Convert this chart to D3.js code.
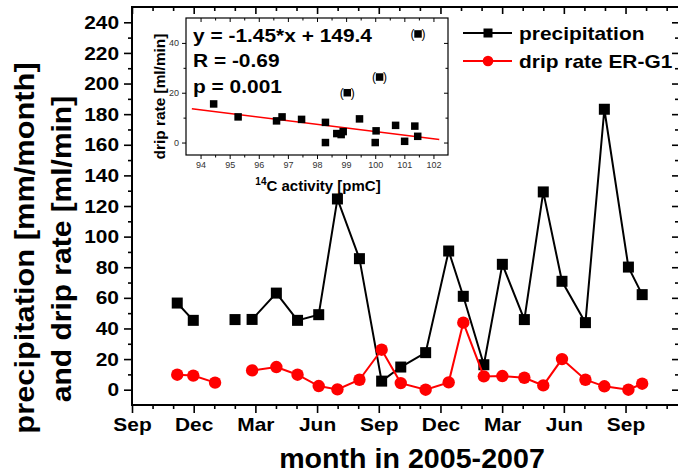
<!DOCTYPE html>
<html>
<head>
<meta charset="utf-8">
<script src="https://cdn.jsdelivr.net/npm/d3@7"></script>
<style>
  body { margin: 0; background: #fff; }
  svg { display: block; }
  text { font-family: "Liberation Sans", Arial, sans-serif; }
</style>
</head>
<body>
<svg id="chart" width="678" height="475"></svg>
<script>
// ---- main series: sampling dates in months after 1 Sep 2005 (null row = gap) ----
const sampleMonth   = [2.20, 2.98, 4.04, 5.01, null, 5.84, 7.02, 8.05, 9.08, 9.99, 11.06, 12.14, 13.07, 14.28, 15.40, 16.11, 17.11, 18.01, 19.08, 20.00, 20.91, 22.05, 22.97, 24.14, 24.81];
const precipitation = [56.6, 45.3, null, 45.8, null, 45.9, 63.1, 45.3, 49.0, 124.6, 85.6, 5.6, 14.8, 24.2, 90.6, 61.0, 16.3, 81.9, 45.8, 129.2, 70.8, 43.8, 183.2, 80.1, 62.1];
const dripRate      = [9.8, 9.2, 4.6, null, null, 12.6, 14.8, 9.8, 2.4, 0.2, 6.5, 26.1, 4.3, 0.0, 4.8, 43.8, 8.7, 8.9, 7.8, 2.8, 20.0, 6.5, 2.2, 0.0, 3.9];

const monthTickLabels = ["Sep", "Dec", "Mar", "Jun", "Sep", "Dec", "Mar", "Jun", "Sep"];
const yTickValues = [0, 20, 40, 60, 80, 100, 120, 140, 160, 180, 200, 220, 240];

const seriesNames = ["precipitation", "drip rate ER-G1"];

// ---- inset: drip rate against 14C activity ----
const c14Activity   = [94.45, 95.29, 96.61, 96.80, 97.47, 98.29, 98.29, 98.68, 98.83, 98.90, 99.46, 100.03, 100.00, 100.70, 101.01, 101.36, 101.46];
const c14DripRate   = [15.5, 10.3, 8.7, 10.3, 9.3, 8.1, 0.0, 3.6, 3.2, 4.4, 9.5, 4.7, 0.0, 6.9, 0.5, 6.6, 2.5];
// excluded from the fit, shown in brackets
const outlierActivity = [99.04, 100.15, 101.47];
const outlierDripRate = [20.0, 26.3, 43.6];

const fitSlope = -1.45, fitIntercept = 149.4, fitR = -0.69, fitP = "0.001";
const fitRange = [93.7, 102.2];
const insetXTicks = [94, 95, 96, 97, 98, 99, 100, 101, 102];
const insetYTicks = [0, 20, 40];

const svg = d3.select("#chart");
const RED = "#ff0000";

// widen glyphs slightly along the writing direction
function stretch(sel, k) {
  sel.each(function () {
    const L = this.getComputedTextLength();
    this.setAttribute("textLength", L * k);
    this.setAttribute("lengthAdjust", "spacingAndGlyphs");
  });
}

// ================= main plot =================
const P = { left: 132, right: 679, top: 7, bottom: 405 };
const x = d3.scaleLinear().domain([0, 26.6]).range([P.left, P.right]);
const y = d3.scaleLinear().domain([-10, 250]).range([P.bottom, P.top]);

const majorMonths = d3.range(0, 25, 3);
const minorMonths = d3.range(0, 27).filter(m => m % 3 !== 0);
const minorY = d3.range(10, 250, 20);

function styleAxis(g) {
  g.select(".domain").remove();
  g.selectAll(".tick line").attr("stroke", "#000").attr("stroke-width", 1.6);
}

// bottom (outward)
svg.append("g").attr("transform", `translate(0,${P.bottom})`)
  .call(d3.axisBottom(x).tickValues(minorMonths).tickSize(4).tickFormat(""))
  .call(styleAxis);
const xAxis = svg.append("g").attr("transform", `translate(0,${P.bottom})`)
  .call(d3.axisBottom(x).tickValues(majorMonths).tickSize(8).tickPadding(5)
    .tickFormat((d, i) => monthTickLabels[i]))
  .call(styleAxis);
xAxis.selectAll("text").attr("font-size", 19).attr("font-weight", "bold")
  .attr("fill", "#000").attr("font-family", "Liberation Sans, Arial, sans-serif")
  .call(stretch, 1.1);

// top (inward)
svg.append("g").attr("transform", `translate(0,${P.top})`)
  .call(d3.axisBottom(x).tickValues(minorMonths).tickSize(4).tickFormat(""))
  .call(styleAxis);
svg.append("g").attr("transform", `translate(0,${P.top})`)
  .call(d3.axisBottom(x).tickValues(majorMonths).tickSize(7).tickFormat(""))
  .call(styleAxis);

// left (outward)
svg.append("g").attr("transform", `translate(${P.left},0)`)
  .call(d3.axisLeft(y).tickValues(minorY).tickSize(4).tickFormat(""))
  .call(styleAxis);
const yAxis = svg.append("g").attr("transform", `translate(${P.left},0)`)
  .call(d3.axisLeft(y).tickValues(yTickValues).tickSize(8).tickPadding(5))
  .call(styleAxis);
yAxis.selectAll("text").attr("font-size", 19).attr("font-weight", "bold")
  .attr("fill", "#000").attr("font-family", "Liberation Sans, Arial, sans-serif")
  .call(stretch, 1.1);

// right (inward)
svg.append("g").attr("transform", `translate(${P.right},0)`)
  .call(d3.axisRight(y).tickValues(minorY).tickSize(-4).tickFormat(""))
  .call(styleAxis);
svg.append("g").attr("transform", `translate(${P.right},0)`)
  .call(d3.axisRight(y).tickValues(yTickValues).tickSize(-7).tickFormat(""))
  .call(styleAxis);

// frame
svg.append("rect")
  .attr("x", P.left).attr("y", P.top)
  .attr("width", P.right - P.left).attr("height", P.bottom - P.top)
  .attr("fill", "none").attr("stroke", "#000").attr("stroke-width", 2);

// axis titles
const yTitle1 = svg.append("text")
  .attr("transform", "translate(33.5,248) rotate(-90)")
  .attr("text-anchor", "middle").attr("font-size", 28).attr("font-weight", "bold")
  .text("precipitation [mm/month]");
const yTitle2 = svg.append("text")
  .attr("transform", "translate(71,249) rotate(-90)")
  .attr("text-anchor", "middle").attr("font-size", 28).attr("font-weight", "bold")
  .text("and drip rate [ml/min]");
const xTitle = svg.append("text")
  .attr("x", 412).attr("y", 468)
  .attr("text-anchor", "middle").attr("font-size", 27).attr("font-weight", "bold")
  .text("month in 2005-2007");
yTitle1.call(stretch, 1.1);
yTitle2.call(stretch, 1.07);
xTitle.call(stretch, 1.06);

// series
const rows = sampleMonth.map((m, i) => ({ m, p: precipitation[i], d: dripRate[i] }));

const precipLine = d3.line()
  .defined(r => r.m != null && r.p != null)
  .x(r => x(r.m)).y(r => y(r.p));
const dripLine = d3.line()
  .defined(r => r.m != null && r.d != null)
  .x(r => x(r.m)).y(r => y(r.d));

svg.append("path").datum(rows).attr("d", precipLine)
  .attr("fill", "none").attr("stroke", "#000").attr("stroke-width", 2);
const sq = 11;
svg.append("g").selectAll("rect")
  .data(rows.filter(r => r.m != null && r.p != null))
  .join("rect")
  .attr("x", r => x(r.m) - sq / 2).attr("y", r => y(r.p) - sq / 2)
  .attr("width", sq).attr("height", sq).attr("fill", "#000");

svg.append("path").datum(rows).attr("d", dripLine)
  .attr("fill", "none").attr("stroke", RED).attr("stroke-width", 2);
svg.append("g").selectAll("circle")
  .data(rows.filter(r => r.m != null && r.d != null))
  .join("circle")
  .attr("cx", r => x(r.m)).attr("cy", r => y(r.d))
  .attr("r", 6.2).attr("fill", RED);

// legend
const legend = svg.append("g");
const legendRows = [
  { name: seriesNames[0], color: "#000", y: 33, shape: "square" },
  { name: seriesNames[1], color: RED, y: 61, shape: "circle" }
];
legendRows.forEach(L => {
  legend.append("line").attr("x1", 463).attr("x2", 512).attr("y1", L.y).attr("y2", L.y)
    .attr("stroke", L.color).attr("stroke-width", 1.8);
  if (L.shape === "square") {
    legend.append("rect").attr("x", 488 - 4.5).attr("y", L.y - 4.5)
      .attr("width", 9).attr("height", 9).attr("fill", L.color);
  } else {
    legend.append("circle").attr("cx", 488).attr("cy", L.y).attr("r", 5.3).attr("fill", L.color);
  }
  legend.append("text").attr("x", 519).attr("y", L.y + 7)
    .attr("font-size", 19).attr("font-weight", "bold").text(L.name)
    .call(stretch, 1.1);
});

// ================= inset =================
const I = { left: 186, right: 448, top: 18, bottom: 155 };
const ix = d3.scaleLinear().domain([93.5, 102.5]).range([I.left, I.right]);
const iy = d3.scaleLinear().domain([-5, 50]).range([I.bottom, I.top]);

svg.append("rect")
  .attr("x", I.left).attr("y", I.top)
  .attr("width", I.right - I.left).attr("height", I.bottom - I.top)
  .attr("fill", "#fff");

const insetMinorX = d3.range(94.5, 102.5, 1);
const insetMinorY = [10, 30];

function styleInset(g) {
  g.select(".domain").remove();
  g.selectAll(".tick line").attr("stroke", "#000").attr("stroke-width", 1);
}

// bottom (outward) with labels
svg.append("g").attr("transform", `translate(0,${I.bottom})`)
  .call(d3.axisBottom(ix).tickValues(insetMinorX).tickSize(2.5).tickFormat(""))
  .call(styleInset);
const ixAxis = svg.append("g").attr("transform", `translate(0,${I.bottom})`)
  .call(d3.axisBottom(ix).tickValues(insetXTicks).tickSize(4).tickPadding(3))
  .call(styleInset);
ixAxis.selectAll("text").attr("font-size", 9).attr("fill", "#333")
  .attr("font-family", "Liberation Sans, Arial, sans-serif");

// top (inward)
svg.append("g").attr("transform", `translate(0,${I.top})`)
  .call(d3.axisBottom(ix).tickValues(insetMinorX).tickSize(2.5).tickFormat(""))
  .call(styleInset);
svg.append("g").attr("transform", `translate(0,${I.top})`)
  .call(d3.axisBottom(ix).tickValues(insetXTicks).tickSize(4).tickFormat(""))
  .call(styleInset);

// left (outward) with labels
svg.append("g").attr("transform", `translate(${I.left},0)`)
  .call(d3.axisLeft(iy).tickValues(insetMinorY).tickSize(2.5).tickFormat(""))
  .call(styleInset);
const iyAxis = svg.append("g").attr("transform", `translate(${I.left},0)`)
  .call(d3.axisLeft(iy).tickValues(insetYTicks).tickSize(4).tickPadding(3))
  .call(styleInset);
iyAxis.selectAll("text").attr("font-size", 9).attr("fill", "#333")
  .attr("font-family", "Liberation Sans, Arial, sans-serif");

// right (inward)
svg.append("g").attr("transform", `translate(${I.right},0)`)
  .call(d3.axisRight(iy).tickValues(insetMinorY).tickSize(-2.5).tickFormat(""))
  .call(styleInset);
svg.append("g").attr("transform", `translate(${I.right},0)`)
  .call(d3.axisRight(iy).tickValues(insetYTicks).tickSize(-4).tickFormat(""))
  .call(styleInset);

svg.append("rect")
  .attr("x", I.left).attr("y", I.top)
  .attr("width", I.right - I.left).attr("height", I.bottom - I.top)
  .attr("fill", "none").attr("stroke", "#000").attr("stroke-width", 1.2);

// inset axis titles
const ixTitle = svg.append("text")
  .attr("x", 318).attr("y", 191)
  .attr("text-anchor", "middle").attr("font-size", 15).attr("font-weight", "bold");
ixTitle.append("tspan").attr("font-size", 10).attr("dy", -6).text("14");
ixTitle.append("tspan").attr("dy", 6).text("C activity [pmC]");

svg.append("text")
  .attr("transform", "translate(165,96.5) rotate(-90)")
  .attr("text-anchor", "middle").attr("font-size", 14).attr("font-weight", "bold")
  .text("drip rate [ml/min]")
  .call(stretch, 1.1);

// regression line
svg.append("line")
  .attr("x1", ix(fitRange[0])).attr("y1", iy(fitSlope * fitRange[0] + fitIntercept))
  .attr("x2", ix(fitRange[1])).attr("y2", iy(fitSlope * fitRange[1] + fitIntercept))
  .attr("stroke", RED).attr("stroke-width", 1.5);

// inset points
const isq = 7.5;
svg.append("g").selectAll("rect")
  .data(c14Activity.map((a, i) => [a, c14DripRate[i]]))
  .join("rect")
  .attr("x", d => ix(d[0]) - isq / 2).attr("y", d => iy(d[1]) - isq / 2)
  .attr("width", isq).attr("height", isq).attr("fill", "#000");

const outliers = svg.append("g");
outlierActivity.forEach((a, i) => {
  const cx = ix(a), cy = iy(outlierDripRate[i]);
  outliers.append("rect").attr("x", cx - isq / 2).attr("y", cy - isq / 2)
    .attr("width", isq).attr("height", isq).attr("fill", "#000");
  outliers.append("text").attr("x", cx - 3.5).attr("y", cy).attr("dy", "0.36em")
    .attr("text-anchor", "end").attr("font-size", 12).text("(");
  outliers.append("text").attr("x", cx + 3.5).attr("y", cy).attr("dy", "0.36em")
    .attr("text-anchor", "start").attr("font-size", 12).text(")");
});

// fit statistics
const fmt = v => (v < 0 ? "-" : "") + Math.abs(v);
const statLines = [
  `y = ${fmt(fitSlope)}*x + ${fitIntercept}`,
  `R = ${fmt(fitR)}`,
  `p = ${fitP}`
];
svg.append("g").selectAll("text")
  .data(statLines)
  .join("text")
  .attr("x", 193).attr("y", (d, i) => 41.5 + i * 25.5)
  .attr("font-size", 19).attr("font-weight", "bold")
  .text(d => d)
  .call(stretch, 1.1);
</script>
</body>
</html>
